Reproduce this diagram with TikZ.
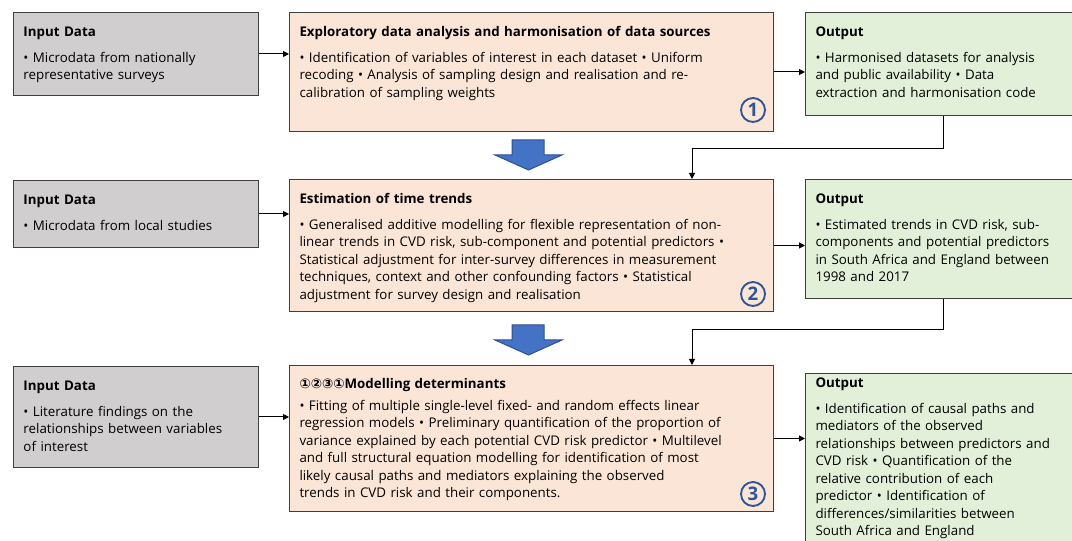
\documentclass[tikz,border=0pt]{standalone}
\usepackage{fontspec}
\setmainfont{Open Sans}
\newfontfamily\dejavu{DejaVu Sans}
\usetikzlibrary{arrows.meta}
\definecolor{ingray}{HTML}{D0CECE}
\definecolor{stagefill}{HTML}{FBE5D6}
\definecolor{outgreen}{HTML}{E2F0D9}
\definecolor{edgegray}{HTML}{3F3F3F}
\definecolor{arrowblue}{HTML}{4472C4}
\definecolor{arrowedge}{HTML}{2F528F}
\definecolor{numblue}{HTML}{2F5597}
\begin{document}
\begin{tikzpicture}[x=0.75pt,y=-0.75pt,
  every node/.style={font=\fontsize{10}{13.1}\selectfont},
  box/.style={draw=edgegray,line width=0.75pt,anchor=north west,align=left,inner xsep=7.5pt,inner ysep=0pt,text height=18pt},
  inbox/.style={box,fill=ingray,text width=168.75pt},
  stagebox/.style={box,fill=stagefill,text width=348pt},
  outbox/.style={box,fill=outgreen,text width=191.25pt},
  flow/.style={-{Triangle[length=4.5pt,width=4.5pt]},line width=0.75pt},
  num/.style={circle,draw=numblue,line width=1.4pt,text=numblue,minimum size=18pt,inner sep=0pt,font=\fontsize{14}{14}\selectfont\bfseries}]
\useasboundingbox (0,0) rectangle (1072,541);

\node[inbox,text depth=44.25pt] (in1) at (13,12) {\textbf{Input Data}\\[6.4pt]• Microdata from nationally\\representative surveys};
\node[stagebox,text depth=71.25pt] (pr1) at (289,12) {\textbf{Exploratory data analysis and harmonisation of data sources}\\[6.4pt]• Identification of variables of interest in each dataset • Uniform\\recoding • Analysis of sampling design and realisation and re-\\calibration of sampling weights};
\node[outbox,text depth=59.25pt] (out1) at (805,12) {\textbf{Output}\\[6.4pt]• Harmonised datasets for analysis\\and public availability • Data\\extraction and harmonisation code};

\node[inbox,text depth=32.25pt] (in2) at (13,180) {\textbf{Input Data}\\[6.4pt]• Microdata from local studies};
\node[stagebox,text depth=81pt] (pr2) at (289,179) {\textbf{Estimation of time trends}\\[6.4pt]• Generalised additive modelling for flexible representation of non-\\linear trends in CVD risk, sub-component and potential predictors •\\Statistical adjustment for inter-survey differences in measurement\\techniques, context and other confounding factors • Statistical\\adjustment for survey design and realisation};
\node[outbox,text depth=71.25pt] (out2) at (805,179) {\textbf{Output}\\[6.4pt]• Estimated trends in CVD risk, sub-\\components and potential predictors\\in South Africa and England between\\1998 and 2017};

\node[inbox,text depth=57.75pt] (in3) at (13,366) {\textbf{Input Data}\\[6.4pt]• Literature findings on the\\relationships between variables\\of interest};
\node[stagebox,text height=17.25pt,text depth=92.25pt] (pr3) at (289,365) {\textbf{{\dejavu ①②③①}Modelling determinants}\\[3.4pt]• Fitting of multiple single-level fixed- and random effects linear\\regression models • Preliminary quantification of the proportion of\\variance explained by each potential CVD risk predictor • Multilevel\\and full structural equation modelling for identification of most\\likely causal paths and mediators explaining the observed\\trends in CVD risk and their components.};
\node[outbox,text height=10.5pt,text depth=124.5pt] (out3) at (805,373) {\textbf{Output}\\[6.4pt]• Identification of causal paths and\\mediators of the observed\\relationships between predictors and\\CVD risk • Quantification of the\\relative contribution of each\\predictor • Identification of\\differences/similarities between\\South Africa and England};

\node[num] (c1) at (753,110) {1};
\node[num] (c2) at (753,294) {2};
\node[num] (c3) at (753,494) {3};

\foreach \i in {1,2,3} {
  \draw[flow] (in\i.east) -- (in\i.east -| pr\i.west);
  \draw[flow] (pr\i.east) -- (pr\i.east -| out\i.west);
}
\coordinate (j1) at (692,149);
\coordinate (j2) at (692,330);
\draw[flow] (out1.south) |- (j1) -- (j1 |- pr2.north);
\draw[flow] (out2.south) |- (j2) -- (j2 |- pr3.north);

\foreach \y in {140,325}
  \filldraw[fill=arrowblue,draw=arrowedge,line width=0.75pt] (512,\y) -- (544,\y) -- (544,\y+15) -- (562,\y+15) -- (528.5,\y+30) -- (495,\y+15) -- (512,\y+15) -- cycle;
\end{tikzpicture}
\end{document}
